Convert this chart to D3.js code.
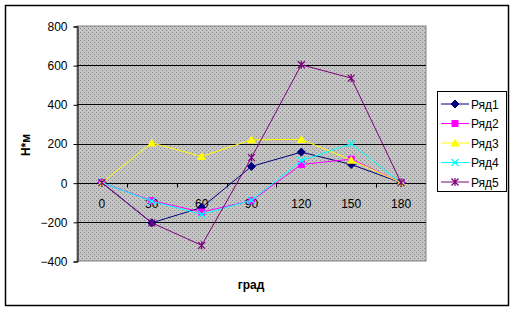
<!DOCTYPE html>
<html>
<head>
<meta charset="utf-8">
<script src="https://cdn.jsdelivr.net/npm/d3@7"></script>
<style>
  body { margin: 0; background: #fff; }
  text { font-family: "Liberation Sans", Arial, sans-serif; }
</style>
</head>
<body>
<svg id="chart" width="516" height="312"></svg>
<script>
// categories (degrees) and series values
const categories = ["0", "30", "60", "90", "120", "150", "180"];
const seriesNames = ["Ряд1", "Ряд2", "Ряд3", "Ряд4", "Ряд5"];
const ryad1 = [0, -205, -127, 83, 156, 93, 0];
const ryad2 = [0, -92, -150, -92, 93, 120, 0];
const ryad3 = [0, 203, 134, 219, 221, 115, 0];
const ryad4 = [0, -95, -162, -90, 112, 199, 0];
const ryad5 = [0, -205, -320, 128, 602, 534, 0];
const yTicks = [-400, -200, 0, 200, 400, 600, 800];

const svg = d3.select('#chart');

const plot = {left: 77, right: 426, top: 26, bottom: 261};

const x = d3.scaleBand().domain(categories).range([plot.left, plot.right]);
const y = d3.scaleLinear().domain([-400, 800]).range([plot.bottom, plot.top]);

// outer border
svg.append('rect')
  .attr('x', 5.5).attr('y', 5.5)
  .attr('width', 503).attr('height', 300)
  .attr('fill', '#fff').attr('stroke', '#000').attr('stroke-width', 1.5);

// dotted grey fill of the plot area
const defs = svg.append('defs');
const pat = defs.append('pattern')
  .attr('id', 'dots').attr('patternUnits', 'userSpaceOnUse')
  .attr('width', 4).attr('height', 4);
pat.append('rect').attr('width', 4).attr('height', 4).attr('fill', '#c4c4c4');
pat.append('rect').attr('x', 0).attr('y', 0).attr('width', 1).attr('height', 1).attr('fill', '#888');
pat.append('rect').attr('x', 2).attr('y', 2).attr('width', 1).attr('height', 1).attr('fill', '#888');

svg.append('rect')
  .attr('x', plot.left).attr('y', plot.top)
  .attr('width', plot.right - plot.left).attr('height', plot.bottom - plot.top)
  .attr('fill', 'url(#dots)').attr('stroke', '#808080').attr('stroke-width', 1);

// gridlines
svg.append('g').selectAll('line')
  .data(yTicks.filter(d => d !== 800 && d !== -400 && d !== 0))
  .enter().append('line')
  .attr('x1', plot.left).attr('x2', plot.right)
  .attr('y1', d => Math.round(y(d)) + 0.5).attr('y2', d => Math.round(y(d)) + 0.5)
  .attr('stroke', '#000');

// y axis
const yAxis = d3.axisLeft(y).tickValues(yTicks).tickSize(4).tickPadding(6);
const gy = svg.append('g').attr('transform', `translate(${plot.left + 0.5},0.5)`).call(yAxis);
gy.select('.domain').attr('stroke', '#000');
gy.selectAll('text').style('font-size', '12px').attr('fill', '#000');

// x axis at y = 0
const y0 = Math.round(y(0)) + 0.5;
svg.append('line')
  .attr('x1', plot.left).attr('x2', plot.right)
  .attr('y1', y0).attr('y2', y0).attr('stroke', '#000');
svg.append('g').selectAll('line')
  .data(categories.slice(1))
  .enter().append('line')
  .attr('x1', d => Math.round(x(d)) + 0.5).attr('x2', d => Math.round(x(d)) + 0.5)
  .attr('y1', y0).attr('y2', y0 + 4).attr('stroke', '#000');
svg.append('g').selectAll('text')
  .data(categories)
  .enter().append('text')
  .attr('x', d => x(d) + x.bandwidth() / 2)
  .attr('y', y0 + 24)
  .attr('text-anchor', 'middle')
  .style('font-size', '12px')
  .text(d => d);

// axis titles
svg.append('text')
  .attr('x', 251).attr('y', 289)
  .attr('text-anchor', 'middle')
  .style('font-size', '12px').style('font-weight', 'bold')
  .text('град');
svg.append('text')
  .attr('transform', 'translate(30,145) rotate(-90)')
  .attr('text-anchor', 'middle')
  .style('font-size', '12px').style('font-weight', 'bold')
  .text('Н*м');

// series
const colors = ['#000080', '#ff00ff', '#ffff00', '#00ffff', '#800080'];
const allSeries = [ryad1, ryad2, ryad3, ryad4, ryad5];

const line = d3.line()
  .x((d, i) => x(categories[i]) + x.bandwidth() / 2)
  .y(d => y(d));

function drawMarker(g, k, cx, cy) {
  const c = colors[k];
  if (k === 0) {
    g.append('path').attr('d', `M${cx},${cy - 4}L${cx + 4},${cy}L${cx},${cy + 4}L${cx - 4},${cy}Z`)
      .attr('fill', c).attr('stroke', c);
  } else if (k === 1) {
    g.append('rect').attr('x', cx - 3.5).attr('y', cy - 3.5).attr('width', 7).attr('height', 7)
      .attr('fill', c);
  } else if (k === 2) {
    g.append('path').attr('d', `M${cx},${cy - 4.5}L${cx + 4.5},${cy + 3.5}L${cx - 4.5},${cy + 3.5}Z`)
      .attr('fill', c);
  } else if (k === 3) {
    g.append('path').attr('d', `M${cx - 3.5},${cy - 3.5}L${cx + 3.5},${cy + 3.5}M${cx - 3.5},${cy + 3.5}L${cx + 3.5},${cy - 3.5}`)
      .attr('stroke', c).attr('stroke-width', 1.2);
  } else {
    g.append('path').attr('d', `M${cx - 3.5},${cy - 3.5}L${cx + 3.5},${cy + 3.5}M${cx - 3.5},${cy + 3.5}L${cx + 3.5},${cy - 3.5}M${cx},${cy - 4}L${cx},${cy + 4}`)
      .attr('stroke', c).attr('stroke-width', 1.2);
  }
}

allSeries.forEach((vals, k) => {
  const g = svg.append('g');
  g.append('path').datum(vals)
    .attr('d', line)
    .attr('fill', 'none').attr('stroke', colors[k]).attr('stroke-width', 1);
  vals.forEach((v, i) => {
    drawMarker(g, k, x(categories[i]) + x.bandwidth() / 2, y(v));
  });
});

// legend
const legend = svg.append('g');
legend.append('rect')
  .attr('x', 437.5).attr('y', 91.5).attr('width', 69).attr('height', 100)
  .attr('fill', '#fff').attr('stroke', '#000');
seriesNames.forEach((name, k) => {
  const ly = 104 + k * 19.5;
  legend.append('line')
    .attr('x1', 441).attr('x2', 469).attr('y1', ly).attr('y2', ly)
    .attr('stroke', colors[k]).attr('stroke-width', 1);
  drawMarker(legend, k, 455, ly);
  legend.append('text')
    .attr('x', 471).attr('y', ly + 4.5)
    .style('font-size', '12px')
    .text(name);
});
</script>
</body>
</html>
